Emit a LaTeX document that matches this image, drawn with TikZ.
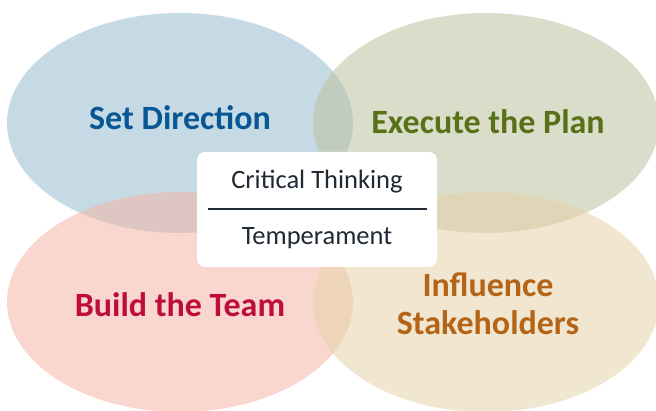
\documentclass[tikz,border=0pt]{standalone}
\usepackage{fontspec}
\setmainfont{Carlito}
\usetikzlibrary{shapes.geometric, positioning}

% bubble fills (drawn half transparent, so overlaps darken)
\definecolor{dirfill}{RGB}{150,187,206}
\definecolor{planfill}{RGB}{188,193,158}
\definecolor{teamfill}{RGB}{244,182,166}
\definecolor{stakefill}{RGB}{230,210,168}
% label colours
\definecolor{dirtext}{RGB}{8,86,148}
\definecolor{plantext}{RGB}{88,112,22}
\definecolor{teamtext}{RGB}{190,12,60}
\definecolor{staketext}{RGB}{180,100,22}
\definecolor{coretext}{RGB}{32,42,52}

\tikzset{
    bubble/.style={ellipse, minimum width=346pt, minimum height=220pt,
        inner sep=0pt, fill opacity=0.55, text opacity=1},
    head/.style={font=\fontsize{34}{38}\selectfont\bfseries, align=center},
    core/.style={font=\fontsize{26.5}{30}\selectfont, text=coretext},
}

\begin{document}
\begin{tikzpicture}[x=1pt, y=-1pt]
    \useasboundingbox (0,0) rectangle (656,411);

    % the four bubbles
    \node[bubble, fill=dirfill] (dir) at (180,123) {};
    \node[bubble, fill=planfill] (plan) at (486,123) {};
    \node[bubble, fill=teamfill] (team) at (180,302) {};
    \node[bubble, fill=stakefill] (stake) at (486,302) {};

    \node[head, text=dirtext] (dirlabel) at (180,118) {Set Direction};
    \node[head, text=plantext] (planlabel) at (488,122) {Execute the Plan};
    \node[head, text=teamtext] (teamlabel) at (180,305) {Build the Team};
    \node[head, text=staketext] (stakelabel) at (488,304) {Influence\\Stakeholders};

    % centre card
    \node[fill=white, rounded corners=8pt, minimum width=240pt,
        minimum height=115pt, inner sep=0pt] (card) at (317,209.5) {};
    \node[core] (think) at (317,182) {Critical Thinking};
    \node[core] (temper) at (317,238) {Temperament};
    \coordinate (rulel) at (208,209);
    \coordinate (ruler) at (427,209);
    \draw[coretext, line width=1.5pt] (rulel) -- (ruler);
\end{tikzpicture}
\end{document}
